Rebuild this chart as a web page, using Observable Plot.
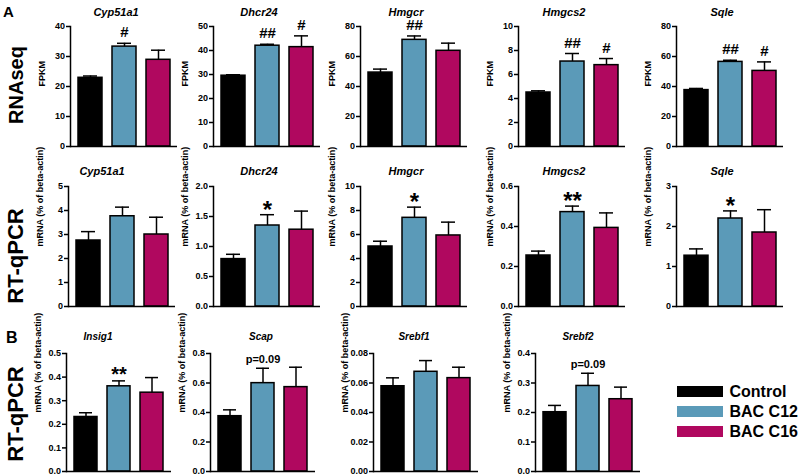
<!DOCTYPE html>
<html><head><meta charset="utf-8">
<script src="https://cdn.jsdelivr.net/npm/d3@7"></script>
<script src="https://cdn.jsdelivr.net/npm/@observablehq/plot@0.6"></script>
<style>
html,body{margin:0;padding:0;background:#fff;}
#fig{position:relative;width:800px;height:476px;overflow:hidden;font-family:"Liberation Sans",Arial,sans-serif;}
#fig svg{position:absolute;overflow:visible;}
</style></head><body><div id="fig"></div>
<script>
// ---------- data ----------
const groups = ["Control", "BAC C12", "BAC C16"];

const rnaseqGenes = ["Cyp51a1", "Dhcr24", "Hmgcr", "Hmgcs2", "Sqle"];
const rnaseqMean = [[22.9, 33.3, 28.9], [29.5, 42.0, 41.4], [49.3, 71.1, 63.8], [4.50, 7.08, 6.78], [37.6, 56.4, 50.4]];
const rnaseqSem  = [[0.6, 1.1, 3.2], [0.4, 0.6, 4.7], [2.3, 2.6, 5.1], [0.14, 0.67, 0.55], [1.1, 1.1, 6.0]];
const rnaseqSig  = [["", "#", ""], ["", "##", "#"], ["", "##", ""], ["", "##", "#"], ["", "##", "#"]];
const rnaseqTicks = [["0","10","20","30","40"], ["0","10","20","30","40","50"], ["0","20","40","60","80"], ["0","2","4","6","8","10"], ["0","20","40","60","80"]];

const qpcrGenes = ["Cyp51a1", "Dhcr24", "Hmgcr", "Hmgcs2", "Sqle"];
const qpcrMean = [[2.75, 3.76, 3.00], [0.79, 1.35, 1.28], [5.00, 7.39, 5.92], [0.255, 0.472, 0.393], [1.27, 2.20, 1.85]];
const qpcrSem  = [[0.37, 0.38, 0.72], [0.08, 0.18, 0.31], [0.44, 0.89, 1.11], [0.022, 0.030, 0.075], [0.17, 0.19, 0.57]];
const qpcrSig  = [["", "", ""], ["", "*", ""], ["", "*", ""], ["", "**", ""], ["", "*", ""]];
const qpcrTicks = [["0","1","2","3","4","5"], ["0.0","0.5","1.0","1.5","2.0"], ["0","2","4","6","8","10"], ["0.0","0.2","0.4","0.6"], ["0","1","2","3"]];

const bGenes = ["Insig1", "Scap", "Srebf1", "Srebf2"];
const bMean = [[0.231, 0.361, 0.334], [0.375, 0.599, 0.572], [0.0578, 0.0676, 0.0633], [0.201, 0.290, 0.245]];
const bSem  = [[0.018, 0.023, 0.064], [0.043, 0.101, 0.135], [0.0057, 0.0076, 0.0074], [0.023, 0.043, 0.041]];
const bSig  = [["", "**", ""], ["", "p=0.09", ""], ["", "", ""], ["", "p=0.09", ""]];
const bTicks = [["0.0","0.1","0.2","0.3","0.4","0.5"], ["0.0","0.2","0.4","0.6","0.8"], ["0.00","0.02","0.04","0.06","0.08"], ["0.0","0.1","0.2","0.3","0.4"]];

const yLabels = ["FPKM", "mRNA (% of beta-actin)"];
const rowLabels = ["RNAseq", "RT-qPCR", "RT-qPCR"];
const panelLetters = ["A", "B"];

// ---------- styling / layout ----------
const FONT = "'Liberation Sans', Arial, Helvetica, sans-serif";
const colors = ["#000000", "#5b9ab8", "#b0085f"];
const fig = document.getElementById("fig");

const rows = [
  {genes: rnaseqGenes, mean: rnaseqMean, sem: rnaseqSem, sig: rnaseqSig, ticks: rnaseqTicks, ylabel: yLabels[0],
   top: 26, bottom: 146, axisX: [70, 213, 360, 518, 676], frameW: 107, titleDx: [-8, -8, -8, -8, -8], titleGap: 11, titleSize: 11,
   sigStyle: s => ({fontSize: 15, dy: -6})},
  {genes: qpcrGenes, mean: qpcrMean, sem: qpcrSem, sig: qpcrSig, ticks: qpcrTicks, ylabel: yLabels[1],
   top: 186, bottom: 306, axisX: [68, 213, 360, 518, 676], frameW: 107, titleDx: [-20, -8, -8, -8, -8], titleGap: 12, titleSize: 11,
   sigStyle: s => ({fontSize: 24, dy: 3})},
  {genes: bGenes, mean: bMean, sem: bSem, sig: bSig, ticks: bTicks, ylabel: yLabels[1],
   top: 353, bottom: 471, axisX: [66, 210, 373, 535], frameW: 105, titleDx: [-21, -2, -12, -10], titleGap: 14, titleSize: 10,
   sigStyle: s => s.startsWith("p") ? {fontSize: 11, dy: -5} : {fontSize: 20, dy: 0}}
];

function panel(row, k) {
  const ml = 50, mt = 36, mb = 4, mr = 6;
  const gene = row.genes[k];
  const data = groups.map((g, i) => ({group: g, mean: row.mean[k][i], hi: row.mean[k][i] + row.sem[k][i], sig: row.sig[k][i]}));
  const labels = row.ticks[k];
  const vals = labels.map(Number);
  const fmt = new Map(vals.map((v, i) => [v, labels[i]]));
  const sigMarks = data.filter(d => d.sig).map(d => {
    const st = row.sigStyle(d.sig);
    return Plot.text([d], {x: "group", y: "hi", text: "sig", fontSize: st.fontSize, dy: st.dy, lineAnchor: "bottom", fontWeight: "bold"});
  });
  const svg = Plot.plot({
    width: ml + row.frameW + mr,
    height: mt + (row.bottom - row.top) + mb,
    marginLeft: ml, marginRight: mr, marginTop: mt, marginBottom: mb,
    style: {fontFamily: FONT, fontSize: "9px", fontWeight: "bold", background: "none", color: "#000", overflow: "visible"},
    x: {domain: groups, paddingInner: 0.3, paddingOuter: 0.2, axis: null},
    y: {domain: [0, vals[vals.length - 1]], axis: null},
    color: {domain: groups, range: colors},
    marks: [
      Plot.axisY({ticks: vals, tickFormat: d => fmt.get(d), tickSize: 4, tickPadding: 1.5, strokeWidth: 1.5, label: null, fontSize: 9}),
      Plot.barY(data, {x: "group", y: "mean", fill: "group", stroke: "#000", strokeWidth: 1.5}),
      Plot.ruleX(data, {x: "group", y1: "mean", y2: "hi", stroke: "#000", strokeWidth: 1.5}),
      Plot.tickY(data, {x: "group", y: "hi", insetLeft: 5, insetRight: 5, stroke: "#000", strokeWidth: 1.5}),
      Plot.ruleY([0], {stroke: "#000", strokeWidth: 1.5}),
      Plot.frame({anchor: "left", stroke: "#000", strokeWidth: 1.5}),
      ...sigMarks,
      Plot.text([gene], {text: d => d, frameAnchor: "top", dx: row.titleDx[k], dy: -row.titleGap, lineAnchor: "bottom",
        fontStyle: "italic", fontWeight: "bold", fontSize: row.titleSize}),
      Plot.text([row.ylabel], {text: d => d, frameAnchor: "left", rotate: -90, dx: -28, lineAnchor: "middle", fontSize: 9, fontWeight: "bold"})
    ]
  });
  svg.style.left = (row.axisX[k] - ml) + "px";
  svg.style.top = (row.top - mt) + "px";
  fig.appendChild(svg);
}

rows.forEach(row => row.genes.forEach((g, k) => panel(row, k)));

// legend
const legend = Plot.plot({
  width: 124, height: 60, margin: 0,
  style: {fontFamily: FONT, background: "none", color: "#000", overflow: "visible"},
  x: {domain: [0, 1], range: [0, 46], axis: null},
  y: {domain: groups, paddingInner: 0.45, paddingOuter: 0.225, axis: null},
  color: {domain: groups, range: colors},
  marks: [
    Plot.barX(groups, {x1: 0, x2: 1, y: d => d, fill: d => d}),
    Plot.text(groups, {text: d => d, y: d => d, frameAnchor: "left", dx: 52, textAnchor: "start", lineAnchor: "middle", fontSize: 16, fontWeight: "bold"})
  ]
});
legend.style.left = "677px";
legend.style.top = "381px";
fig.appendChild(legend);

// row labels and panel letters
const ov = d3.select(fig).append("svg").attr("width", 800).attr("height", 476)
  .style("left", "0px").style("top", "0px").style("pointer-events", "none")
  .attr("font-family", FONT).attr("font-weight", "bold").attr("fill", "#000");
const rowPos = [[16, 85, 20], [15, 256, 22], [15, 414, 22]];
rowLabels.forEach((t, i) => {
  ov.append("text").attr("transform", `translate(${rowPos[i][0]},${rowPos[i][1]}) rotate(-90)`)
    .attr("text-anchor", "middle").attr("dominant-baseline", "central").attr("font-size", rowPos[i][2]).text(t);
});
ov.append("text").attr("x", 3).attr("y", 17).attr("font-size", 15).text(panelLetters[0]);
ov.append("text").attr("x", 6).attr("y", 343).attr("font-size", 16).text(panelLetters[1]);
</script></body></html>
